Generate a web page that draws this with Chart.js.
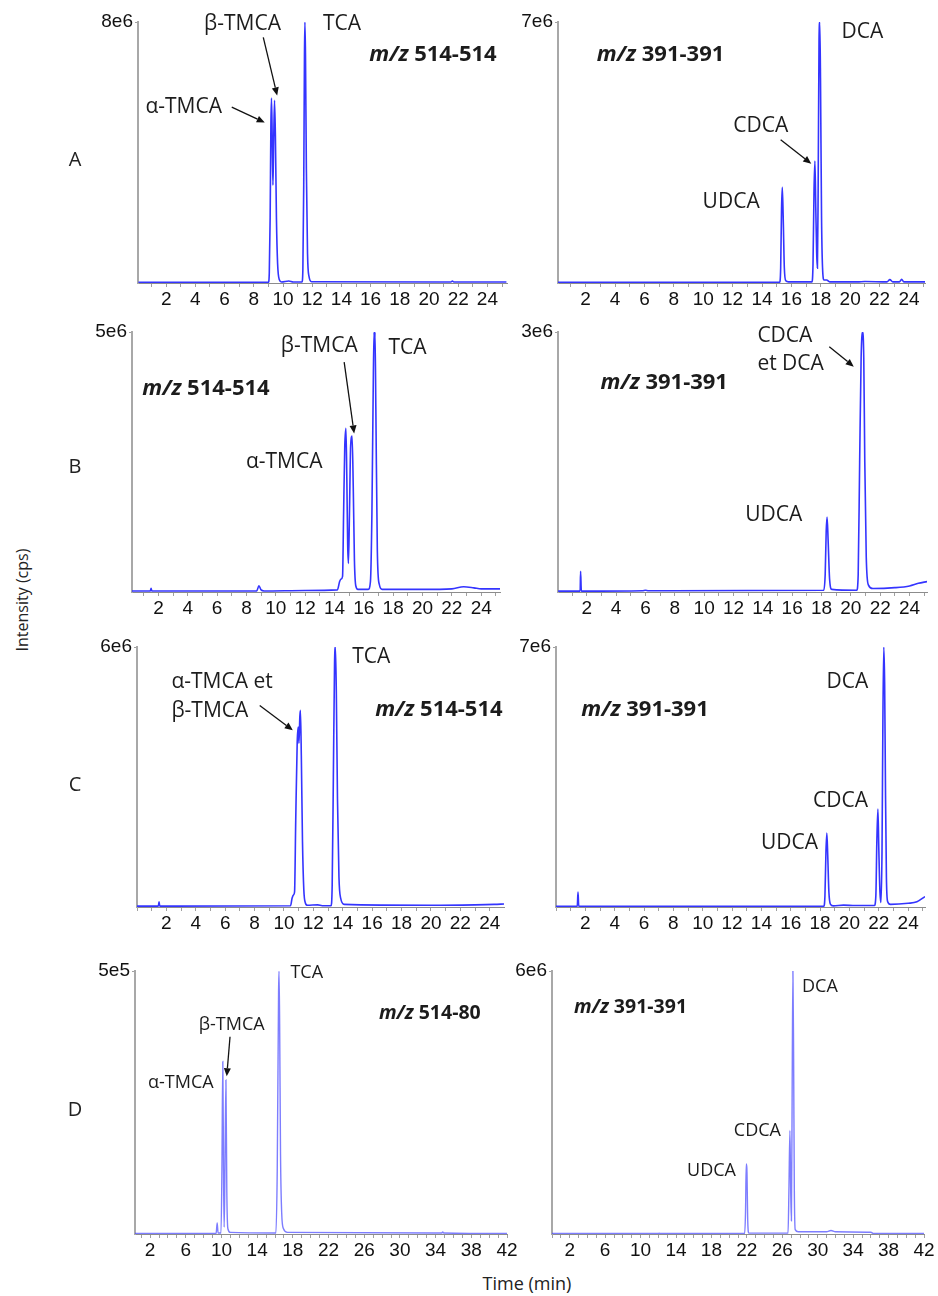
<!DOCTYPE html>
<html><head><meta charset="utf-8">
<script src="https://cdn.jsdelivr.net/npm/chart.js@4/dist/chart.umd.min.js"></script>
<style>
html,body{margin:0;padding:0;background:#fff;}
#root{position:relative;width:938px;height:1296px;overflow:hidden;background:#fff;}
.pane{position:absolute;}
.txt{position:absolute;font-family:'Open Sans',sans-serif;color:#222;white-space:nowrap;transform:translate(-50%,-50%);}
</style></head><body><div id="root"></div>
<script>
// ---------- DATA (time in min, intensity in panel units) ----------
const ticksShort = [2,4,6,8,10,12,14,16,18,20,22,24];
const ticksLong = [2,6,10,14,18,22,26,30,34,38,42];
const yMaxLabels = ['8e6','7e6','5e6','3e6','6e6','7e6','5e5','6e6'];
const yMaxValues = [8,7,5,3,6,7,5,6];
const yUnits = [1e6,1e6,1e6,1e6,1e6,1e6,1e5,1e6];
const panelLetters = ['A','B','C','D'];

// A, m/z 514-514
const traceA1 = [[0.1,0.02],[9.0,0.02],[9.06,0.3],[9.12,2.0],[9.17,4.8],[9.21,5.67],[9.26,4.5],[9.31,3.0],[9.36,4.3],[9.42,5.6],[9.48,4.5],[9.55,2.0],[9.63,0.6],[9.75,0.1],[9.9,0.03],[10.4,0.06],[10.7,0.03],[11.3,0.03],[11.36,0.4],[11.42,3.0],[11.47,7.0],[11.5,8.0],[11.54,7.0],[11.6,3.5],[11.68,0.9],[11.78,0.2],[11.95,0.04],[21.5,0.03],[21.6,0.06],[21.7,0.03],[25.3,0.03]];
// A, m/z 391-391
const traceA2 = [[0.12,0.02],[15.2,0.02],[15.27,0.4],[15.33,2.0],[15.38,2.57],[15.44,1.8],[15.52,0.4],[15.62,0.06],[15.8,0.03],[17.4,0.03],[17.47,0.5],[17.54,2.5],[17.6,3.27],[17.66,2.0],[17.72,0.8],[17.77,0.4],[17.82,2.5],[17.88,6.5],[17.93,7.0],[17.98,5.5],[18.05,1.8],[18.12,0.4],[18.22,0.08],[18.4,0.08],[18.6,0.03],[20.5,0.03],[21.0,0.04],[22.5,0.03],[22.7,0.09],[22.9,0.03],[23.35,0.03],[23.5,0.1],[23.65,0.03],[25.09,0.03]];
// B, m/z 514-514
const traceB1 = [[0.2,0.02],[1.45,0.02],[1.5,0.07],[1.55,0.02],[8.7,0.02],[8.85,0.12],[9.0,0.04],[9.2,0.02],[12.0,0.03],[14.2,0.04],[14.35,0.2],[14.45,0.25],[14.55,0.3],[14.62,1.5],[14.7,2.8],[14.78,3.15],[14.84,2.2],[14.9,0.9],[14.95,0.55],[15.02,1.5],[15.1,2.8],[15.2,3.0],[15.28,2.0],[15.36,0.6],[15.45,0.12],[15.6,0.05],[16.3,0.05],[16.45,0.2],[16.55,1.5],[16.65,4.2],[16.7,5.0],[16.73,4.7],[16.76,5.0],[16.82,3.5],[16.92,0.8],[17.05,0.15],[17.25,0.05],[20.0,0.05],[22.0,0.06],[22.8,0.1],[23.5,0.08],[24.0,0.06],[25.28,0.06]];
// B, m/z 391-391
const traceB2 = [[0.05,0.01],[1.55,0.01],[1.58,0.24],[1.63,0.01],[5.8,0.015],[6.0,0.02],[6.2,0.015],[18.15,0.02],[18.25,0.2],[18.32,0.7],[18.38,0.865],[18.45,0.6],[18.55,0.15],[18.7,0.03],[20.4,0.02],[20.5,0.2],[20.6,1.5],[20.7,2.7],[20.8,3.0],[20.88,2.7],[20.95,1.5],[21.05,0.4],[21.2,0.08],[21.5,0.04],[23.0,0.05],[24.0,0.07],[24.6,0.1],[25.19,0.12]];
// C, m/z 514-514
const traceC1 = [[0,0.02],[1.45,0.02],[1.5,0.12],[1.55,0.02],[10.45,0.03],[10.55,0.2],[10.65,0.28],[10.72,0.35],[10.8,2.0],[10.9,3.8],[10.97,4.15],[11.02,3.78],[11.08,4.4],[11.12,4.54],[11.18,3.5],[11.26,1.5],[11.35,0.4],[11.45,0.1],[11.6,0.04],[12.3,0.05],[12.6,0.03],[13.2,0.03],[13.28,0.5],[13.36,3.0],[13.44,5.6],[13.5,6.0],[13.56,5.0],[13.64,2.5],[13.74,0.7],[13.86,0.2],[14.1,0.06],[20.0,0.04],[23.0,0.05],[24.3,0.06],[25,0.07]];
// C, m/z 391-391
const traceC2 = [[0,0.02],[1.45,0.02],[1.5,0.4],[1.55,0.02],[4,0.02],[18.25,0.02],[18.33,0.3],[18.4,1.5],[18.46,1.99],[18.52,1.4],[18.6,0.4],[18.7,0.08],[18.9,0.03],[19.6,0.05],[20.4,0.04],[21.7,0.04],[21.8,0.3],[21.87,1.8],[21.94,2.64],[22.0,1.6],[22.08,0.4],[22.15,0.12],[22.22,1.5],[22.28,5.0],[22.34,7.0],[22.4,6.0],[22.46,3.0],[22.52,0.8],[22.6,0.15],[22.8,0.07],[24.0,0.1],[24.6,0.14],[25.15,0.28]];
// D, m/z 514-80 (units of 1e5)
const traceD1 = [[0.31,0.01],[9.4,0.01],[9.52,0.21],[9.62,0.02],[9.95,0.02],[10.05,1.2],[10.15,3.28],[10.24,1.0],[10.3,0.13],[10.38,1.0],[10.5,2.93],[10.6,0.8],[10.72,0.1],[11.0,0.03],[16.1,0.02],[16.25,1.2],[16.4,4.6],[16.45,5.0],[16.52,4.0],[16.62,1.5],[16.75,0.4],[16.95,0.1],[17.4,0.03],[34.7,0.02],[34.8,0.04],[34.9,0.02],[42,0.01]];
// D, m/z 391-391
const traceD2 = [[0,0.01],[12,0.01],[12.1,0.02],[12.2,0.01],[21.75,0.01],[21.85,0.5],[21.93,1.6],[22.0,1.5],[22.1,0.3],[22.22,0.02],[26.65,0.02],[26.75,1.0],[26.86,2.36],[26.95,1.0],[27.03,0.3],[27.12,3.5],[27.2,6.0],[27.28,4.0],[27.36,1.0],[27.46,0.1],[27.8,0.05],[31.0,0.05],[31.5,0.08],[32.0,0.05],[36.0,0.04],[36.3,0.01],[42,0.01]];

const traces = [traceA1,traceA2,traceB1,traceB2,traceC1,traceC2,traceD1,traceD2];

// ---------- LAYOUT / ANNOTATIONS ----------
const panels = [
 {area:{l:138,t:22,r:507,b:283}, xmin:0.07, xmax:25.34, ticks:ticksShort, color:'#3434ff', lw:1.6, fs:21, mzfs:22,
  notes:[{text:'β-TMCA',t:7.23,v:7.94},{text:'TCA',t:14.04,v:7.94},{mz:'514-514',t:20.27,v:6.99},{text:'α-TMCA',t:3.2,v:5.39}],
  arrows:[[[6.49,5.39],[8.75,4.92]],[[8.65,7.53],[9.6,5.75]]]},
 {area:{l:558,t:22,r:925,b:283}, xmin:0.12, xmax:25.09, ticks:ticksShort, color:'#3434ff', lw:1.6, fs:21, mzfs:22,
  notes:[{mz:'391-391',t:7.1,v:6.11},{text:'DCA',t:20.83,v:6.74},{text:'CDCA',t:13.91,v:4.21},{text:'UDCA',t:11.9,v:2.18}],
  arrows:[[[15.27,3.84],[17.35,3.2]]]},
 {area:{l:132,t:332,r:500,b:592}, xmin:0.2, xmax:25.28, ticks:ticksShort, color:'#3434ff', lw:1.6, fs:21, mzfs:22,
  notes:[{mz:'514-514',t:5.24,v:3.9},{text:'β-TMCA',t:12.96,v:4.74},{text:'TCA',t:18.98,v:4.7},{text:'α-TMCA',t:10.57,v:2.5}],
  arrows:[[[14.66,4.42],[15.34,3.05]]]},
 {area:{l:558,t:332,r:927,b:592}, xmin:0.04, xmax:25.19, ticks:ticksShort, color:'#3434ff', lw:1.6, fs:21, mzfs:22,
  notes:[{text:'CDCA',t:13.63,v:2.95,align:'left'},{text:'et DCA',t:13.63,v:2.63,align:'left'},{mz:'391-391',t:7.28,v:2.42},{text:'UDCA',t:14.75,v:0.89}],
  arrows:[[[18.53,2.83],[20.2,2.6]]]},
 {area:{l:137,t:647,r:504,b:907}, xmin:0, xmax:24.97, ticks:ticksShort, color:'#3434ff', lw:1.6, fs:21, mzfs:22,
  notes:[{text:'TCA',t:15.94,v:5.77},{text:'α-TMCA et',t:2.34,v:5.19,align:'left'},{text:'β-TMCA',t:2.34,v:4.52,align:'left'},{mz:'514-514',t:20.54,v:4.56}],
  arrows:[[[8.35,4.65],[10.6,4.08]]]},
 {area:{l:556,t:647,r:925,b:907}, xmin:0, xmax:25.15, ticks:ticksShort, color:'#3434ff', lw:1.6, fs:21, mzfs:22,
  notes:[{mz:'391-391',t:6.07,v:5.32},{text:'DCA',t:19.86,v:6.06},{text:'CDCA',t:19.39,v:2.84},{text:'UDCA',t:15.92,v:1.72}],
  arrows:[]},
 {area:{l:135,t:971,r:507,b:1234}, xmin:0.31, xmax:42, ticks:ticksLong, color:'rgba(70,70,255,0.7)', lw:1.4, fs:18, mzfs:19.5,
  notes:[{text:'TCA',t:19.56,v:4.96},{mz:'514-80',t:33.35,v:4.2},{text:'β-TMCA',t:11.15,v:3.97},{text:'α-TMCA',t:5.45,v:2.87}],
  arrows:[[[10.96,3.75],[10.59,3.0]]]},
 {area:{l:552,t:971,r:924,b:1234}, xmin:0, xmax:42, ticks:ticksLong, color:'rgba(70,70,255,0.7)', lw:1.4, fs:18, mzfs:19.5,
  notes:[{mz:'391-391',t:8.87,v:5.17},{text:'DCA',t:30.25,v:5.64},{text:'CDCA',t:23.19,v:2.35},{text:'UDCA',t:18.01,v:1.43}],
  arrows:[]}
];

const root = document.getElementById('root');

function addText(txt, x, y, size, rotate){
  const d = document.createElement('div');
  d.className = 'txt';
  d.textContent = txt;
  d.style.left = x+'px'; d.style.top = y+'px';
  d.style.fontSize = size+'px';
  if (rotate) d.style.transform = 'translate(-50%,-50%) rotate(-90deg)';
  root.appendChild(d);
}

function notesPluginFor(p, unit){
  return {
    id:'panelNotes',
    afterDatasetsDraw(chart){
      const ctx = chart.ctx, xs = chart.scales.x, ys = chart.scales.y;
      ctx.save();
      ctx.fillStyle = '#1c1c1c';
      ctx.textBaseline = 'middle';
      for (const it of p.notes){
        const px = xs.getPixelForValue(it.t), py = ys.getPixelForValue(it.v*unit);
        if (it.mz){
          const f1 = `italic bold ${p.mzfs}px 'Open Sans'`, f2 = `bold ${p.mzfs}px 'Open Sans'`;
          ctx.font = f1; const w1 = ctx.measureText('m/z ').width;
          ctx.font = f2; const w2 = ctx.measureText(it.mz).width;
          const sx = px - (w1+w2)/2;
          ctx.textAlign = 'left';
          ctx.font = f1; ctx.fillText('m/z ', sx, py);
          ctx.font = f2; ctx.fillText(it.mz, sx+w1, py);
        } else {
          ctx.font = `${p.fs}px 'Open Sans'`;
          ctx.textAlign = it.align || 'center';
          ctx.fillText(it.text, px, py);
        }
      }
      ctx.strokeStyle = '#111'; ctx.fillStyle = '#111'; ctx.lineWidth = 1.3;
      for (const a of p.arrows){
        const x1 = xs.getPixelForValue(a[0][0]), y1 = ys.getPixelForValue(a[0][1]*unit);
        const x2 = xs.getPixelForValue(a[1][0]), y2 = ys.getPixelForValue(a[1][1]*unit);
        const ang = Math.atan2(y2-y1, x2-x1), hl = 8, hw = 3.5;
        const bx = x2 - hl*Math.cos(ang), by = y2 - hl*Math.sin(ang);
        ctx.beginPath(); ctx.moveTo(x1,y1); ctx.lineTo(bx,by); ctx.stroke();
        ctx.beginPath();
        ctx.moveTo(x2,y2);
        ctx.lineTo(bx + hw*Math.sin(ang), by - hw*Math.cos(ang));
        ctx.lineTo(bx - hw*Math.sin(ang), by + hw*Math.cos(ang));
        ctx.closePath(); ctx.fill();
      }
      ctx.restore();
    }
  };
}

panels.forEach((p, i) => {
  const padL = 60, padT = 16, padR = 18, padB = 34;
  const W = (p.area.r - p.area.l) + padL + padR;
  const H = (p.area.b - p.area.t) + padT + padB;
  const div = document.createElement('div');
  div.className = 'pane';
  div.style.left = (p.area.l - padL)+'px';
  div.style.top = (p.area.t - padT)+'px';
  div.style.width = W+'px'; div.style.height = H+'px';
  const cv = document.createElement('canvas');
  cv.width = W; cv.height = H;
  cv.style.width = W+'px'; cv.style.height = H+'px';
  div.appendChild(cv); root.appendChild(div);
  const unit = yUnits[i];
  const ymax = yMaxValues[i]*unit;
  new Chart(cv, {
    type:'line',
    data:{datasets:[{
      data: traces[i].map(([t,v]) => ({x:t, y:v*unit})),
      borderColor:p.color, borderWidth:p.lw, pointRadius:0,
      cubicInterpolationMode:'monotone', fill:false
    }]},
    options:{
      responsive:false, animation:false, devicePixelRatio:1, events:[],
      layout:{padding:{top:padT, right:padR, left:0, bottom:0}},
      plugins:{legend:{display:false}, tooltip:{enabled:false}},
      scales:{
        x:{type:'linear', min:p.xmin, max:p.xmax,
          afterBuildTicks:s => { const t=[]; for(let k=Math.ceil(p.xmin); k<=Math.floor(p.xmax+1e-9); k++) t.push({value:k}); s.ticks=t; },
          afterFit:s => { s.height = padB; },
          ticks:{autoSkip:false, maxRotation:0, minRotation:0, padding:1, color:'#111',
            font:{family:"'Liberation Sans', Arial", size:19}, callback:v => p.ticks.includes(v) ? String(v) : ''},
          grid:{drawOnChartArea:false, drawTicks:true, tickLength:4, color:'#a0a0a0', lineWidth:1},
          border:{display:true, color:'#8c8c8c', width:1}
        },
        y:{type:'linear', min:0, max:ymax,
          afterBuildTicks:s => { s.ticks = [{value:ymax}]; },
          afterFit:s => { s.width = padL; },
          ticks:{padding:2, color:'#111', font:{family:"'Liberation Sans', Arial", size:19}, callback:() => yMaxLabels[i]},
          grid:{drawOnChartArea:false, drawTicks:true, tickLength:3, color:'#a0a0a0'},
          border:{display:true, color:'#a8a8a8', width:2}
        }
      }
    },
    plugins:[notesPluginFor(p, unit)]
  });
});

addText(panelLetters[0], 75, 158, 20);
addText(panelLetters[1], 75, 465, 20);
addText(panelLetters[2], 75, 783, 20);
addText(panelLetters[3], 75, 1108, 20);
addText('Intensity (cps)', 22, 600, 16, true);
addText('Time (min)', 527, 1283, 18);
</script></body></html>
